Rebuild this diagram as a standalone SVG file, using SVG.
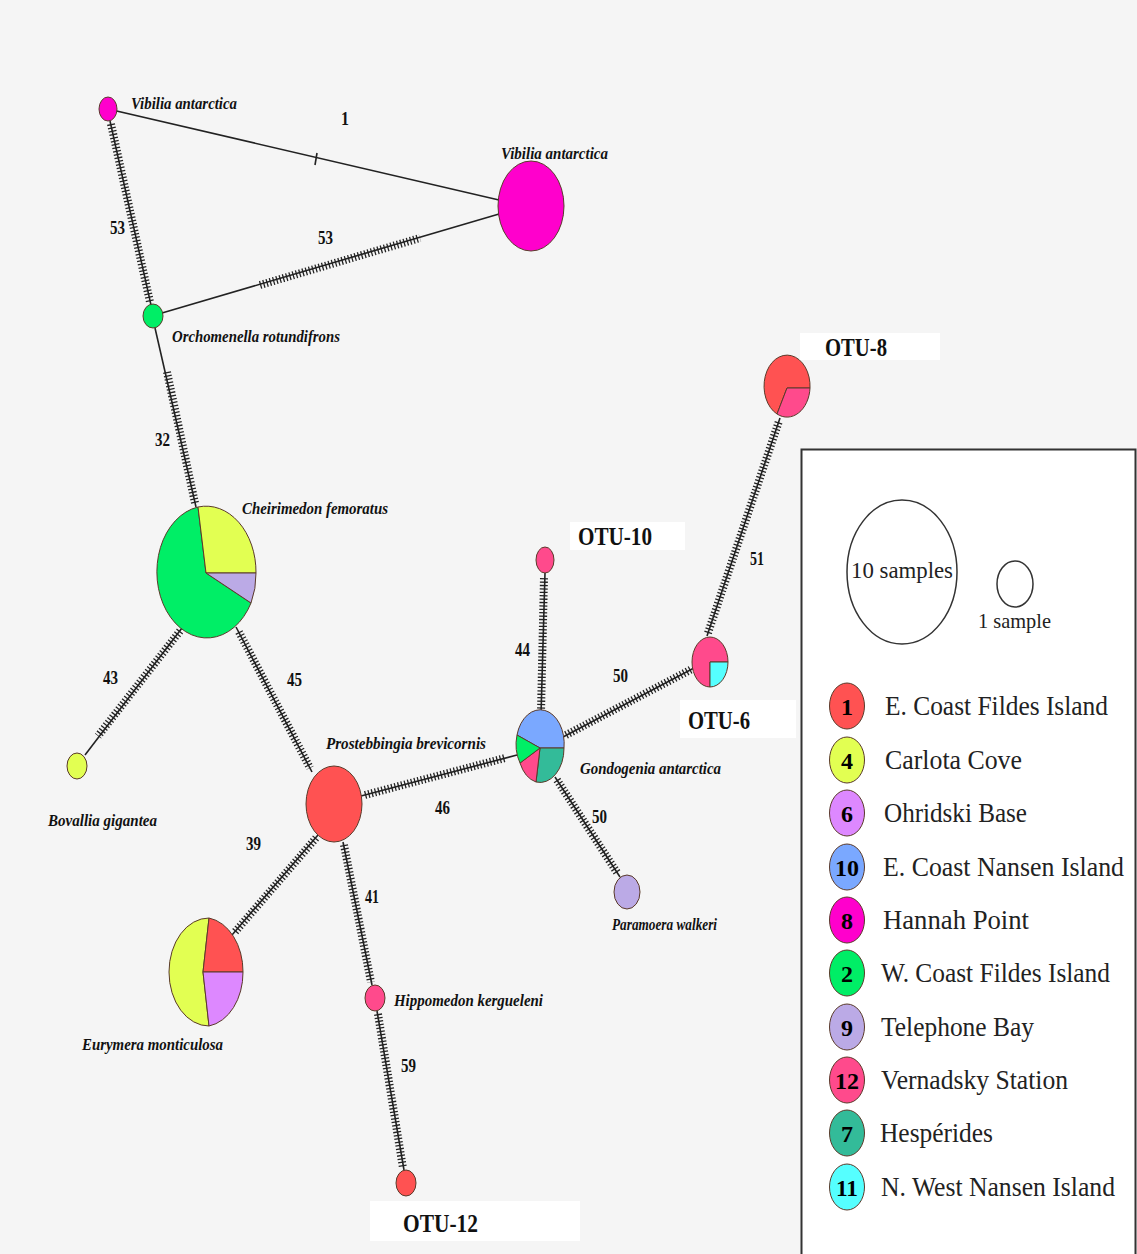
<svg xmlns="http://www.w3.org/2000/svg" width="1137" height="1254" viewBox="0 0 1137 1254">
<style>
.ln{stroke:#222;stroke-width:1.6;fill:none}
.ht{stroke:#222;stroke-width:8;stroke-dasharray:1.3 2.1;fill:none}
.nd{stroke:#5a3a2a;stroke-width:1}
.sp{font-family:"Liberation Serif",serif;font-style:italic;font-weight:bold;font-size:17px;fill:#111}
.num{font-family:"Liberation Serif",serif;font-weight:bold;font-size:18px;fill:#111}
.otu{font-family:"Liberation Serif",serif;font-weight:bold;font-size:26px;fill:#111}
.lg{font-family:"Liberation Serif",serif;font-size:27px;fill:#222}
.lgn{font-family:"Liberation Serif",serif;font-weight:bold;font-size:24px;fill:#000;text-anchor:middle}
.red{fill:#ff5252}.yel{fill:#e2ff52}.vio{fill:#dd88ff}.blu{fill:#7aa8ff}.mag{fill:#ff00cc}.grn{fill:#00ee66}.lav{fill:#bbaae6}.pnk{fill:#ff4a8c}.tea{fill:#33bb99}.cya{fill:#55ffff}
</style>
<rect x="0" y="0" width="1137" height="1254" fill="#f5f5f5"/>
<g id="connectors">
  <line class="ln" x1="108" y1="109" x2="499" y2="200"/>
  <line class="ln" x1="317" y1="153" x2="315" y2="165"/>
  <line class="ln" x1="110" y1="121" x2="151" y2="305"/>
  <line class="ht" x1="111" y1="124" x2="150" y2="302"/>
  <line class="ln" x1="162" y1="313" x2="499" y2="214"/>
  <line class="ht" x1="260" y1="285" x2="420" y2="238"/>
  <line class="ln" x1="155" y1="328" x2="196" y2="507"/>
  <line class="ht" x1="167" y1="372" x2="195" y2="503"/>
  <line class="ln" x1="182" y1="628" x2="85" y2="755"/>
  <line class="ht" x1="180" y1="631" x2="98" y2="736"/>
  <line class="ln" x1="236" y1="627" x2="312" y2="772"/>
  <line class="ht" x1="239" y1="632" x2="310" y2="768"/>
  <line class="ln" x1="361" y1="796" x2="517" y2="755"/>
  <line class="ht" x1="365" y1="795" x2="505" y2="758"/>
  <line class="ln" x1="318" y1="835" x2="232" y2="935"/>
  <line class="ht" x1="316" y1="838" x2="235" y2="932"/>
  <line class="ln" x1="343" y1="842" x2="372" y2="985"/>
  <line class="ht" x1="344" y1="845" x2="371" y2="982"/>
  <line class="ln" x1="377" y1="1011" x2="404" y2="1170"/>
  <line class="ht" x1="378" y1="1014" x2="403" y2="1168"/>
  <line class="ln" x1="541" y1="715" x2="545" y2="573"/>
  <line class="ht" x1="541" y1="712" x2="544" y2="577"/>
  <line class="ln" x1="563" y1="737" x2="694" y2="668"/>
  <line class="ht" x1="566" y1="735" x2="692" y2="669"/>
  <line class="ln" x1="555" y1="777" x2="620" y2="877"/>
  <line class="ht" x1="557" y1="780" x2="618" y2="874"/>
  <line class="ln" x1="707" y1="636" x2="780" y2="418"/>
  <line class="ht" x1="708" y1="633" x2="779" y2="421"/>
</g>
<g id="edge-labels">
  <text class="num" x="341" y="125" textLength="8" lengthAdjust="spacingAndGlyphs">1</text>
  <text class="num" x="110" y="234" textLength="15" lengthAdjust="spacingAndGlyphs">53</text>
  <text class="num" x="318" y="244" textLength="15" lengthAdjust="spacingAndGlyphs">53</text>
  <text class="num" x="155" y="446" textLength="15" lengthAdjust="spacingAndGlyphs">32</text>
  <text class="num" x="103" y="684" textLength="15" lengthAdjust="spacingAndGlyphs">43</text>
  <text class="num" x="287" y="686" textLength="15" lengthAdjust="spacingAndGlyphs">45</text>
  <text class="num" x="435" y="790" textLength="15" lengthAdjust="spacingAndGlyphs" transform="translate(0,24)">46</text>
  <text class="num" x="246" y="850" textLength="15" lengthAdjust="spacingAndGlyphs">39</text>
  <text class="num" x="365" y="903" textLength="14" lengthAdjust="spacingAndGlyphs">41</text>
  <text class="num" x="401" y="1072" textLength="15" lengthAdjust="spacingAndGlyphs">59</text>
  <text class="num" x="515" y="656" textLength="15" lengthAdjust="spacingAndGlyphs">44</text>
  <text class="num" x="613" y="682" textLength="15" lengthAdjust="spacingAndGlyphs">50</text>
  <text class="num" x="592" y="823" textLength="15" lengthAdjust="spacingAndGlyphs">50</text>
  <text class="num" x="750" y="565" textLength="14" lengthAdjust="spacingAndGlyphs">51</text>
</g>
<g id="n-vibilia-small">
  <ellipse class="nd mag" cx="108" cy="109" rx="9" ry="12"/>
  <text class="sp" x="131" y="109" textLength="106" lengthAdjust="spacingAndGlyphs">Vibilia antarctica</text>
</g>
<g id="n-vibilia-large">
  <ellipse class="nd mag" cx="531" cy="206" rx="33" ry="45"/>
  <text class="sp" x="501" y="159" textLength="107" lengthAdjust="spacingAndGlyphs">Vibilia antarctica</text>
</g>
<g id="n-orchomenella">
  <ellipse class="nd grn" cx="153" cy="316" rx="10" ry="12"/>
  <text class="sp" x="172" y="342" textLength="168" lengthAdjust="spacingAndGlyphs">Orchomenella rotundifrons</text>
</g>
<g id="n-cheirimedon">
  <path class="nd grn" d="M206,573 L251,603 A50,66 0 1 1 198,507 Z"/>
  <path class="nd yel" d="M206,573 L198,507 A50,66 0 0 1 256,573 Z"/>
  <path class="nd lav" d="M206,573 L256,573 A50,66 0 0 1 251,603 Z"/>
  <text class="sp" x="242" y="514" textLength="146" lengthAdjust="spacingAndGlyphs">Cheirimedon femoratus</text>
</g>
<g id="n-bovallia">
  <ellipse class="nd yel" cx="77" cy="766" rx="10" ry="13"/>
  <text class="sp" x="48" y="826" textLength="109" lengthAdjust="spacingAndGlyphs">Bovallia gigantea</text>
</g>
<g id="n-prostebbingia">
  <ellipse class="nd red" cx="334" cy="804" rx="28" ry="38"/>
  <text class="sp" x="326" y="749" textLength="160" lengthAdjust="spacingAndGlyphs">Prostebbingia brevicornis</text>
</g>
<g id="n-eurymera">
  <path class="nd yel" d="M203,972 L209,1026 A40,54 0 0 1 209,918 Z"/>
  <path class="nd red" d="M203,972 L209,918 A40,54 0 0 1 243,972 Z"/>
  <path class="nd vio" d="M203,972 L243,972 A40,54 0 0 1 209,1026 Z"/>
  <text class="sp" x="82" y="1050" textLength="141" lengthAdjust="spacingAndGlyphs">Eurymera monticulosa</text>
</g>
<g id="n-hippomedon">
  <ellipse class="nd pnk" cx="375" cy="998" rx="10" ry="13"/>
  <text class="sp" x="394" y="1006" textLength="149" lengthAdjust="spacingAndGlyphs">Hippomedon kergueleni</text>
</g>
<g id="n-otu12">
  <ellipse class="nd red" cx="406" cy="1183" rx="10" ry="13"/>
  <rect x="370" y="1201" width="210" height="40" fill="#ffffff"/>
  <text class="otu" x="403" y="1232" textLength="75" lengthAdjust="spacingAndGlyphs">OTU-12</text>
</g>
<g id="n-gondogenia">
  <path class="nd blu" d="M540,748 L517,735 A24,34 0 0 1 564,748 Z"/>
  <path class="nd tea" d="M540,748 L564,748 A24,34 0 0 1 536,782 Z"/>
  <path class="nd pnk" d="M540,748 L536,782 A24,34 0 0 1 520,763 Z"/>
  <path class="nd grn" d="M540,748 L520,763 A24,34 0 0 1 517,735 Z"/>
  <text class="sp" x="580" y="774" textLength="141" lengthAdjust="spacingAndGlyphs">Gondogenia antarctica</text>
</g>
<g id="n-paramoera">
  <ellipse class="nd lav" cx="627" cy="892" rx="13" ry="17"/>
  <text class="sp" x="612" y="930" textLength="105" lengthAdjust="spacingAndGlyphs">Paramoera walkeri</text>
</g>
<g id="n-otu10">
  <ellipse class="nd pnk" cx="545" cy="560" rx="9" ry="13"/>
  <rect x="570" y="522" width="115" height="28" fill="#ffffff"/>
  <text class="otu" x="578" y="545" textLength="74" lengthAdjust="spacingAndGlyphs">OTU-10</text>
</g>
<g id="n-otu6">
  <path class="nd pnk" d="M710,662 L710,687 A18,25 0 1 1 728,662 Z"/>
  <path class="nd cya" d="M710,662 L728,662 A18,25 0 0 1 710,687 Z"/>
  <rect x="680" y="700" width="116" height="38" fill="#ffffff"/>
  <text class="otu" x="688" y="729" textLength="62" lengthAdjust="spacingAndGlyphs">OTU-6</text>
</g>
<g id="n-otu8">
  <path class="nd red" d="M787,388 L777,414 A23,31 0 1 1 810,388 Z"/>
  <path class="nd pnk" d="M787,388 L810,388 A23,31 0 0 1 777,414 Z"/>
  <rect x="800" y="333" width="140" height="27" fill="#ffffff"/>
  <text class="otu" x="825" y="356" textLength="62" lengthAdjust="spacingAndGlyphs">OTU-8</text>
</g>
<g id="legend">
  <rect x="801.500" y="449.500" width="334" height="810" fill="#ffffff" stroke="#333" stroke-width="2"/>
  <ellipse cx="902" cy="572" rx="55" ry="72" fill="none" stroke="#333" stroke-width="1.5"/>
  <text class="lg" x="851" y="578" textLength="102" lengthAdjust="spacingAndGlyphs" style="font-size:24px">10 samples</text>
  <ellipse cx="1015" cy="584" rx="18" ry="23" fill="none" stroke="#333" stroke-width="1.5"/>
  <text class="lg" x="978" y="628" textLength="73" lengthAdjust="spacingAndGlyphs" style="font-size:22px">1 sample</text>
  <ellipse class="nd red" cx="847" cy="706" rx="17.500" ry="23"/><text class="lgn" x="847" y="715" textLength="12" lengthAdjust="spacingAndGlyphs">1</text>
  <text class="lg" x="885" y="715" textLength="223" lengthAdjust="spacingAndGlyphs">E. Coast Fildes Island</text>
  <ellipse class="nd yel" cx="847" cy="760" rx="17.500" ry="23"/><text class="lgn" x="847" y="769" textLength="12" lengthAdjust="spacingAndGlyphs">4</text>
  <text class="lg" x="885" y="769" textLength="137" lengthAdjust="spacingAndGlyphs">Carlota Cove</text>
  <ellipse class="nd vio" cx="847" cy="813" rx="17.500" ry="23"/><text class="lgn" x="847" y="822" textLength="12" lengthAdjust="spacingAndGlyphs">6</text>
  <text class="lg" x="884" y="822" textLength="143" lengthAdjust="spacingAndGlyphs">Ohridski Base</text>
  <ellipse class="nd blu" cx="847" cy="867" rx="17.500" ry="23"/><text class="lgn" x="847" y="876" textLength="24" lengthAdjust="spacingAndGlyphs">10</text>
  <text class="lg" x="883" y="876" textLength="241" lengthAdjust="spacingAndGlyphs">E. Coast Nansen Island</text>
  <ellipse class="nd mag" cx="847" cy="920" rx="17.500" ry="23"/><text class="lgn" x="847" y="929" textLength="12" lengthAdjust="spacingAndGlyphs">8</text>
  <text class="lg" x="883" y="929" textLength="146" lengthAdjust="spacingAndGlyphs">Hannah Point</text>
  <ellipse class="nd grn" cx="847" cy="973" rx="17.500" ry="23"/><text class="lgn" x="847" y="982" textLength="12" lengthAdjust="spacingAndGlyphs">2</text>
  <text class="lg" x="881" y="982" textLength="229" lengthAdjust="spacingAndGlyphs">W. Coast Fildes Island</text>
  <ellipse class="nd lav" cx="847" cy="1027" rx="17.500" ry="23"/><text class="lgn" x="847" y="1036" textLength="12" lengthAdjust="spacingAndGlyphs">9</text>
  <text class="lg" x="881" y="1036" textLength="153" lengthAdjust="spacingAndGlyphs">Telephone Bay</text>
  <ellipse class="nd pnk" cx="847" cy="1080" rx="17.500" ry="23"/><text class="lgn" x="847" y="1089" textLength="24" lengthAdjust="spacingAndGlyphs">12</text>
  <text class="lg" x="881" y="1089" textLength="187" lengthAdjust="spacingAndGlyphs">Vernadsky Station</text>
  <ellipse class="nd tea" cx="847" cy="1133" rx="17.500" ry="23"/><text class="lgn" x="847" y="1142" textLength="12" lengthAdjust="spacingAndGlyphs">7</text>
  <text class="lg" x="880" y="1142" textLength="113" lengthAdjust="spacingAndGlyphs">Hespérides</text>
  <ellipse class="nd cya" cx="847" cy="1187" rx="17.500" ry="23"/><text class="lgn" x="847" y="1196" textLength="22" lengthAdjust="spacingAndGlyphs">11</text>
  <text class="lg" x="881" y="1196" textLength="234" lengthAdjust="spacingAndGlyphs">N. West Nansen Island</text>
</g>
</svg>
